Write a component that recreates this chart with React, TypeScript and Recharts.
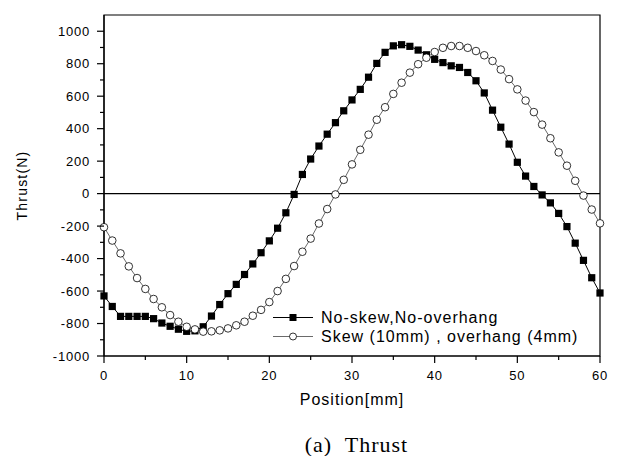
import React from 'react';
import { LineChart, Line, XAxis, YAxis, ReferenceLine, ReferenceArea, Legend, Label } from 'recharts';

const positions = [
  0, 1, 2, 3, 4, 5, 6, 7, 8, 9, 10, 11, 12, 13, 14, 15, 16, 17, 18, 19, 20,
  21, 22, 23, 24, 25, 26, 27, 28, 29, 30, 31, 32, 33, 34, 35, 36, 37, 38, 39, 40,
  41, 42, 43, 44, 45, 46, 47, 48, 49, 50, 51, 52, 53, 54, 55, 56, 57, 58, 59, 60,
];

const noSkew = [
  -630, -695, -756, -756, -756, -756, -770, -797, -817, -835, -848,
  -845, -820, -754, -683, -616, -559, -498, -433, -364, -291,
  -213, -118, -5, 118, 213, 293, 366, 437, 510, 577,
  642, 717, 802, 870, 910, 917, 907, 884, 855, 827,
  807, 787, 777, 746, 695, 620, 514, 409, 305, 193,
  108, 44, -8, -57, -122, -203, -305, -411, -518, -612,
];

const skew = [
  -207, -289, -368, -448, -520, -587, -649, -700, -748, -789, -820,
  -836, -850, -848, -842, -830, -811, -789, -752, -716, -668,
  -600, -525, -446, -358, -277, -184, -95, -5, 85, 180,
  270, 363, 455, 532, 614, 683, 745, 797, 837, 872,
  898, 909, 909, 898, 878, 852, 817, 764, 705, 642,
  573, 502, 425, 341, 254, 172, 79, -12, -98, -183,
];

const xTicks = [0, 5, 10, 15, 20, 25, 30, 35, 40, 45, 50, 55, 60];
const yTicks = [
  -1000, -900, -800, -700, -600, -500, -400, -300, -200, -100, 0,
  100, 200, 300, 400, 500, 600, 700, 800, 900, 1000,
];

const seriesNames = ['No-skew,No-overhang', 'Skew (10mm) , overhang (4mm)'];

const data = positions.map((p, i) => ({ pos: p, a: noSkew[i], b: skew[i] }));

const font = '"Liberation Sans", Arial, sans-serif';

const YTick = (props: any) => {
  const { x, y, payload } = props;
  const v = payload.value;
  const major = v % 200 === 0;
  const ax = x + 14;
  return (
    <g>
      <line x1={ax - (major ? 7 : 4)} x2={ax} y1={y} y2={y} stroke="#000" strokeWidth={1.2} />
      {major && (
        <text x={x} y={y} dy={4.5} textAnchor="end" fontSize={13} letterSpacing={0.8} fontFamily={font} fill="#000">
          {v}
        </text>
      )}
    </g>
  );
};

const XTick = (props: any) => {
  const { x, y, payload } = props;
  const v = payload.value;
  const major = v % 10 === 0;
  const ay = y - 14;
  return (
    <g>
      <line x1={x} x2={x} y1={ay} y2={ay + (major ? 7 : 4)} stroke="#000" strokeWidth={1.2} />
      {major && (
        <text x={x} y={y} dy={10} textAnchor="middle" fontSize={13} letterSpacing={0.8} fontFamily={font} fill="#000">
          {v}
        </text>
      )}
    </g>
  );
};

const SquareDot = (props: any) => {
  const { cx, cy, index } = props;
  return <rect key={'s' + index} x={cx - 3.6} y={cy - 3.6} width={7.2} height={7.2} fill="#000" />;
};

const CircleDot = (props: any) => {
  const { cx, cy, index } = props;
  return <circle key={'c' + index} cx={cx} cy={cy} r={3.8} fill="#fff" stroke="#000" strokeWidth={0.8} />;
};

const renderLegend = () => (
  <div style={{ fontFamily: font, fontSize: 16, letterSpacing: 1, lineHeight: '19px', color: '#000' }}>
    <div style={{ display: 'flex', alignItems: 'center' }}>
      <svg width={42} height={19}>
        <line x1={0} x2={40} y1={9.5} y2={9.5} stroke="#000" strokeWidth={1} />
        <rect x={16.5} y={6} width={7} height={7} fill="#000" />
      </svg>
      <span style={{ marginLeft: 6 }}>{seriesNames[0]}</span>
    </div>
    <div style={{ display: 'flex', alignItems: 'center' }}>
      <svg width={42} height={19}>
        <line x1={0} x2={40} y1={9.5} y2={9.5} stroke="#444" strokeWidth={0.8} />
        <circle cx={20} cy={9.5} r={3.5} fill="#fff" stroke="#000" strokeWidth={0.8} />
      </svg>
      <span style={{ marginLeft: 6 }}>{seriesNames[1]}</span>
    </div>
  </div>
);

export default function App() {
  return (
    <div style={{ position: 'absolute', left: 0, top: 0, width: 617, height: 456, background: '#fff' }}>
      <LineChart width={617} height={420} data={data} margin={{ top: 15, right: 17, left: 44, bottom: 34 }}>
        <XAxis
          dataKey="pos"
          type="number"
          domain={[0, 60]}
          ticks={xTicks}
          interval={0}
          height={30}
          tickSize={7}
          tickMargin={7}
          tickLine={false}
          tick={<XTick />}
          axisLine={{ stroke: '#000', strokeWidth: 1.2 }}
        >
          <Label
            value="Position[mm]"
            position="bottom"
            offset={8}
            style={{ fontFamily: font, fontSize: 16, letterSpacing: 1, fill: '#000' }}
          />
        </XAxis>
        <YAxis
          type="number"
          domain={[-1000, 1100]}
          ticks={yTicks}
          interval={0}
          width={60}
          tickSize={7}
          tickMargin={7}
          tickLine={false}
          tick={<YTick />}
          axisLine={{ stroke: '#000', strokeWidth: 1.2 }}
        >
          <Label
            value="Thrust(N)"
            angle={-90}
            position="insideLeft"
            offset={-22}
            style={{ fontFamily: font, fontSize: 14, letterSpacing: 1.2, fill: '#000', textAnchor: 'middle' }}
          />
        </YAxis>
        <ReferenceArea x1={0} x2={60} y1={-1000} y2={1100} fill="none" stroke="#000" strokeWidth={1.2} />
        <ReferenceLine y={0} stroke="#000" strokeWidth={1.2} />
        <Line
          dataKey="a"
          name={seriesNames[0]}
          type="linear"
          stroke="#000"
          strokeWidth={1}
          dot={<SquareDot />}
          isAnimationActive={false}
        />
        <Line
          dataKey="b"
          name={seriesNames[1]}
          type="linear"
          stroke="#444"
          strokeWidth={0.8}
          dot={<CircleDot />}
          isAnimationActive={false}
        />
        <Legend
          layout="horizontal"
          verticalAlign="middle"
          align="center"
          content={renderLegend}
          wrapperStyle={{ position: 'absolute', left: 273, top: 308, width: 'auto' }}
        />
      </LineChart>
      <div
        style={{
          position: 'absolute',
          left: 0,
          width: 617,
          top: 432,
          textAlign: 'center',
          paddingLeft: 96,
          boxSizing: 'border-box',
          fontFamily: '"Liberation Serif", "Times New Roman", serif',
          fontSize: 22,
          letterSpacing: 1,
          lineHeight: '26px',
          color: '#000',
        }}
      >
        (a)&nbsp; Thrust
      </div>
    </div>
  );
}
